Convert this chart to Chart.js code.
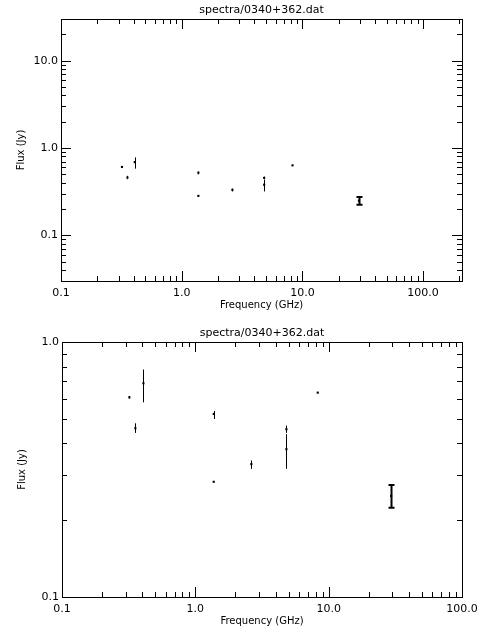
<!DOCTYPE html>
<html>
<head>
<meta charset="utf-8">
<script src="https://cdn.jsdelivr.net/npm/chart.js@4/dist/chart.umd.min.js"></script>
<style>
  body { margin: 0; background: #fff; }
  .box { position: absolute; left: 0; width: 480px; height: 320px; }
</style>
</head>
<body>
<div class="box" style="top:0"><canvas id="top"></canvas></div>
<div class="box" style="top:320px"><canvas id="bottom"></canvas></div>
<script>
// 数据：频率 (GHz)、流量 (Jy) 及误差范围
const freqs  = [0.32, 0.355, 0.408, 1.374, 1.374, 2.63, 4.82, 4.82, 8.28, 29.4];
const fluxes = [0.607, 0.459, 0.689, 0.522, 0.283, 0.332, 0.455, 0.38, 0.633, 0.249];
const fluxLo = [0.600, 0.440, 0.580, 0.499, 0.283, 0.318, 0.440, 0.318, 0.633, 0.224];
const fluxHi = [0.614, 0.480, 0.780, 0.536, 0.283, 0.343, 0.470, 0.435, 0.633, 0.275];
const majorTicks = [0.1, 1, 10, 100];
const titleText = 'spectra/0340+362.dat';

const FONT = '11px "DejaVu Sans", sans-serif';

/**
 * 画边框、四边内向刻度、刻度标签、标题和误差棒
 */
const idlFrame = {
  id: 'idlFrame',
  afterDatasetsDraw(chart) {
    const { ctx, chartArea: a, scales: { x, y } } = chart;
    ctx.save();
    ctx.strokeStyle = '#000';
    ctx.fillStyle = '#000';
    ctx.lineWidth = 1;

    // 误差棒
    freqs.forEach((f, i) => {
      const px = Math.round(x.getPixelForValue(f)) + 0.5;
      const y0 = y.getPixelForValue(fluxLo[i]);
      const y1 = y.getPixelForValue(fluxHi[i]);
      const thick = i === freqs.length - 1;
      ctx.lineWidth = thick ? 2 : 1;
      ctx.beginPath();
      ctx.moveTo(px, y0); ctx.lineTo(px, y1);
      if (thick) {
        ctx.moveTo(px - 3, y0); ctx.lineTo(px + 3, y0);
        ctx.moveTo(px - 3, y1); ctx.lineTo(px + 3, y1);
      }
      ctx.stroke();
    });

    ctx.lineWidth = 1;
    ctx.strokeRect(a.left + 0.5, a.top + 0.5, a.right - a.left, a.bottom - a.top);

    const minorX = [], minorY = [];
    for (let d = -2; d <= 3; d++) {
      for (let m = 1; m <= 9; m++) {
        const v = m * Math.pow(10, d);
        if (v >= x.min && v <= x.max) minorX.push([v, m === 1]);
        if (v >= y.min && v <= y.max) minorY.push([v, m === 1]);
      }
    }
    ctx.beginPath();
    minorX.forEach(([v, major]) => {
      const px = Math.round(x.getPixelForValue(v)) + 0.5;
      const len = major ? 10 : 5;
      ctx.moveTo(px, a.bottom); ctx.lineTo(px, a.bottom - len);
      ctx.moveTo(px, a.top); ctx.lineTo(px, a.top + len);
    });
    minorY.forEach(([v, major]) => {
      const py = Math.round(y.getPixelForValue(v)) + 0.5;
      const len = major ? 10 : 5;
      ctx.moveTo(a.left, py); ctx.lineTo(a.left + len, py);
      ctx.moveTo(a.right, py); ctx.lineTo(a.right - len, py);
    });
    ctx.stroke();

    ctx.font = FONT;
    ctx.textAlign = 'center';
    ctx.textBaseline = 'top';
    majorTicks.forEach(v => {
      if (v >= x.min && v <= x.max)
        ctx.fillText(v.toFixed(1), x.getPixelForValue(v), a.bottom + 7);
    });
    ctx.textAlign = 'right';
    ctx.textBaseline = 'middle';
    majorTicks.forEach(v => {
      if (v >= y.min && v <= y.max)
        ctx.fillText(v.toFixed(1), a.left - 3, y.getPixelForValue(v));
    });

    ctx.textAlign = 'center';
    ctx.textBaseline = 'bottom';
    ctx.fillText(titleText, (a.left + a.right) / 2, a.top - 3);
    ctx.font = '10px "DejaVu Sans", sans-serif';
    ctx.textBaseline = 'top';
    ctx.fillText('Frequency (GHz)', (a.left + a.right) / 2, a.bottom + 19);
    ctx.translate(a.left - 40, (a.top + a.bottom) / 2);
    ctx.rotate(-Math.PI / 2);
    ctx.textBaseline = 'middle';
    ctx.fillText('Flux (Jy)', 0, 0);
    ctx.restore();
  }
};

function renderSpectrum(canvasId, opt) {
  const { xMin, xMax, yMin, yMax, left, right, top, bottom } = opt;
  return new Chart(document.getElementById(canvasId), {
    type: 'scatter',
    data: {
      datasets: [{
        data: freqs.map((f, i) => ({ x: f, y: fluxes[i] })),
        pointStyle: 'rect',
        pointRadius: 1.5,
        backgroundColor: '#000',
        borderColor: '#000',
        borderWidth: 0,
      }],
    },
    options: {
      responsive: true,
      maintainAspectRatio: false,
      animation: false,
      events: [],
      layout: { padding: { left: 0, right: 480 - right, top: top, bottom: 0 } },
      plugins: { legend: { display: false }, tooltip: { enabled: false } },
      scales: {
        x: {
          type: 'logarithmic', min: xMin, max: xMax,
          grid: { display: false }, border: { display: false },
          ticks: { display: false },
          afterFit: s => { s.height = 320 - bottom; },
        },
        y: {
          type: 'logarithmic', min: yMin, max: yMax,
          grid: { display: false }, border: { display: false },
          ticks: { display: false },
          afterFit: s => { s.width = left; },
        },
      },
    },
    plugins: [idlFrame],
  });
}

renderSpectrum('top', { xMin: 0.1, xMax: 210, yMin: 0.03, yMax: 30, left: 61, right: 462, top: 19, bottom: 281 });
renderSpectrum('bottom', { xMin: 0.1, xMax: 100, yMin: 0.1, yMax: 1, left: 62, right: 462, top: 22, bottom: 277 });
</script>
</body>
</html>
